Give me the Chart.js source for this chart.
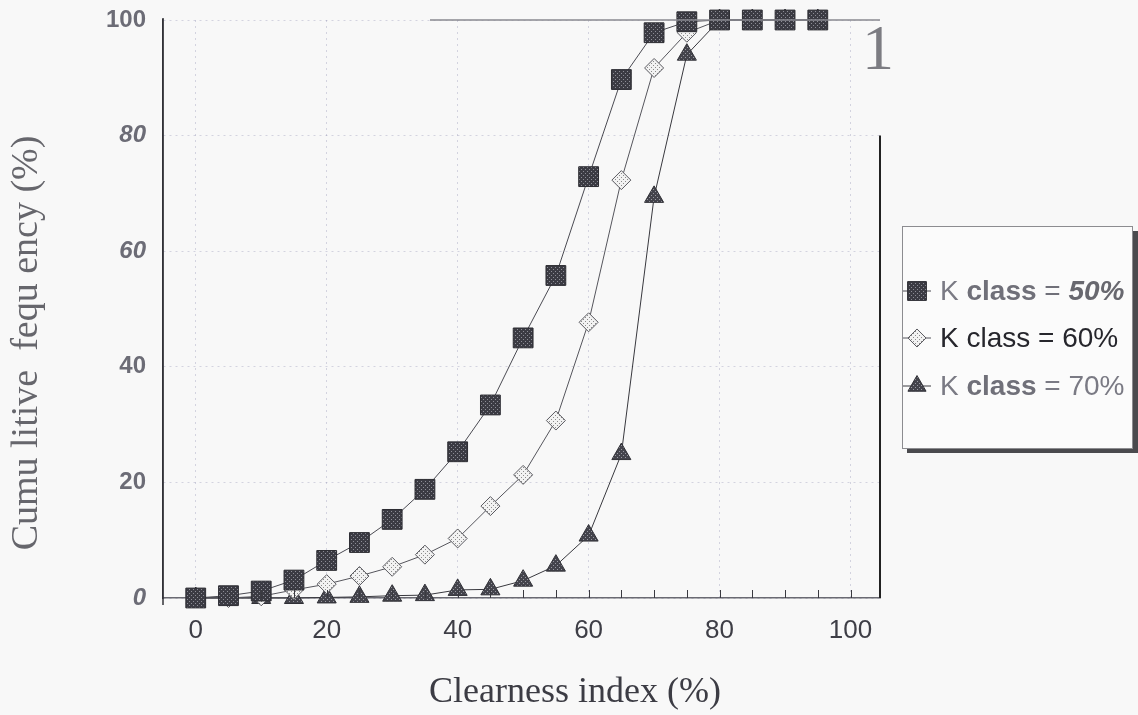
<!DOCTYPE html>
<html><head><meta charset="utf-8">
<script src="https://cdn.jsdelivr.net/npm/chart.js@4/dist/chart.umd.min.js"></script>
<style>html,body{margin:0;padding:0;background:#f8f8f8;}#wrap{width:1138px;height:715px;}</style>
</head><body><div id="wrap"><canvas id="c" width="1138" height="715"></canvas></div>
<script>
// ---- data ----
const clearnessIndex = [0,5,10,15,20,25,30,35,40,45,50,55,60,65,70,75,80,85,90,95];
const kClass50 = [0,0.4,1.2,3.1,6.5,9.6,13.6,18.8,25.3,33.4,45.0,55.8,72.9,89.7,97.8,99.7,100,100,100,100];
const kClass60 = [0,0,0.3,1.4,2.4,3.8,5.4,7.5,10.3,15.9,21.3,30.7,47.7,72.3,91.7,97.8,100,100,100,100];
const kClass70 = [0,0,0,0,0.1,0.2,0.4,0.5,1.4,1.5,3.0,5.6,10.8,24.9,69.4,94.0,100,100,100,100];
const seriesLabels = ['K class = 50%','K class = 60%','K class = 70%'];
const xTickValues = [0,20,40,60,80,100];
const yTickValues = [0,20,40,60,80,100];
const xTitle = 'Clearness index (%)';
const yTitle = 'Cumu litive  fequ ency (%)';
const cornerMark = '1';

function makePattern(bg, dot){
  const p = document.createElement('canvas'); p.width = 4; p.height = 4;
  const g = p.getContext('2d');
  g.fillStyle = bg; g.fillRect(0,0,4,4);
  g.fillStyle = dot; g.fillRect(1,1,1,1); g.fillRect(3,3,1,1);
  return document.getElementById('c').getContext('2d').createPattern(p,'repeat');
}
const patSquare = makePattern('#3b3b43','#8d8d96');
const patDiamond = makePattern('#f2f2f2','#8a8a8a');
const patTri = makePattern('#44444c','#9a9aa2');

const toXY = (ys) => clearnessIndex.map((x,i)=>({x:x, y:ys[i]}));

const decorPlugin = {
  id:'decor',
  afterDraw(chart){
    const ctx = chart.ctx;
    const xs = chart.scales.x, ys = chart.scales.y;
    ctx.save();
    // inward minor ticks on x axis
    ctx.strokeStyle = '#3a3a40'; ctx.lineWidth = 1;
    for (let v = 0; v <= 100; v += 5){
      const px = Math.round(xs.getPixelForValue(v)) + 0.5;
      ctx.beginPath(); ctx.moveTo(px, ys.bottom); ctx.lineTo(px, ys.bottom - 8); ctx.stroke();
    }
    // y axis line overhang
    ctx.strokeStyle = '#333338'; ctx.lineWidth = 1.5;
    ctx.beginPath(); ctx.moveTo(xs.left, ys.top - 2); ctx.lineTo(xs.left, ys.bottom + 7); ctx.stroke();
    // right frame line and partial top line
    ctx.strokeStyle = '#222'; ctx.lineWidth = 2;
    ctx.beginPath(); ctx.moveTo(xs.right, ys.getPixelForValue(80)); ctx.lineTo(xs.right, ys.bottom); ctx.stroke();
    ctx.strokeStyle = '#8a8a90'; ctx.lineWidth = 1.5;
    ctx.beginPath(); ctx.moveTo(430, ys.getPixelForValue(100)); ctx.lineTo(xs.right, ys.getPixelForValue(100)); ctx.stroke();

    // axis titles
    ctx.fillStyle = '#66666c';
    ctx.font = '38px "Liberation Serif", serif';
    ctx.textAlign = 'center'; ctx.textBaseline = 'middle';
    ctx.save(); ctx.translate(27, 343); ctx.rotate(-Math.PI/2); ctx.fillText(yTitle, 0, 0); ctx.restore();
    ctx.fillStyle = '#3c3c44';
    ctx.font = '36px "Liberation Serif", serif';
    ctx.fillText(xTitle, 575, 693);
    ctx.fillStyle = '#7c7c82';
    ctx.font = '64px "Liberation Serif", serif';
    ctx.fillText(cornerMark, 878, 52);

    // legend
    ctx.fillStyle = '#4a4a4e';
    ctx.fillRect(907, 231, 231, 222);
    ctx.fillStyle = '#fbfbfb';
    ctx.fillRect(902, 226, 230, 222);
    ctx.strokeStyle = '#8c8c90'; ctx.lineWidth = 1;
    ctx.strokeRect(902.5, 226.5, 230, 222);
    const rows = [
      {y:291, segs:[['K','28px "Liberation Sans"','#7a7a84'],[' ','28px "Liberation Sans"','#7a7a84'],['class','bold 28px "Liberation Sans"','#707079'],[' = ','28px "Liberation Sans"','#707079'],['50%','italic bold 28px "Liberation Sans"','#68686f']]},
      {y:338, segs:[['K class = 60%','28px "Liberation Sans"','#26262c']]},
      {y:386, segs:[['K','28px "Liberation Sans"','#7a7a84'],[' ','28px "Liberation Sans"','#7a7a84'],['class','bold 28px "Liberation Sans"','#707079'],[' = 70%','28px "Liberation Sans"','#7a7a84']]}
    ];
    chart.data.datasets.forEach((ds, i) => {
      const r = rows[i];
      ctx.strokeStyle = ds.borderColor; ctx.lineWidth = 1;
      ctx.beginPath(); ctx.moveTo(903, r.y); ctx.lineTo(931, r.y); ctx.stroke();
      ctx.fillStyle = ds.pointBackgroundColor; ctx.strokeStyle = ds.pointBorderColor;
      ctx.lineWidth = 1;
      Chart.helpers.drawPoint(ctx, {pointStyle: ds.pointStyle, radius: ds.pointRadius*0.95, rotation:0, borderWidth:1}, 917, r.y);
      let x = 940;
      ctx.textAlign = 'left'; ctx.textBaseline = 'middle';
      r.segs.forEach(s => { ctx.font = s[1]; ctx.fillStyle = s[2]; ctx.fillText(s[0], x, r.y + 1); x += ctx.measureText(s[0]).width; });
    });
    ctx.restore();
  }
};

new Chart(document.getElementById('c'), {
  type: 'scatter',
  data: {
    datasets: [
      {label: seriesLabels[0], data: toXY(kClass50), showLine: true, borderColor: '#4a4a52', borderWidth: 1,
       pointStyle: 'rect', pointRadius: 14, pointBackgroundColor: patSquare, pointBorderColor: '#2c2c32', pointBorderWidth: 1, clip: false},
      {label: seriesLabels[1], data: toXY(kClass60), showLine: true, borderColor: '#55555c', borderWidth: 1,
       pointStyle: 'rectRot', pointRadius: 9.5, pointBackgroundColor: patDiamond, pointBorderColor: '#5a5a60', pointBorderWidth: 1, clip: false},
      {label: seriesLabels[2], data: toXY(kClass70), showLine: true, borderColor: '#38383e', borderWidth: 1,
       pointStyle: 'triangle', pointRadius: 11, pointBackgroundColor: patTri, pointBorderColor: '#303036', pointBorderWidth: 1, clip: false}
    ]
  },
  options: {
    responsive: false, animation: false, devicePixelRatio: 1,
    layout: {padding: {left: 0, right: 258, top: 20, bottom: 0}},
    plugins: {legend: {display: false}, tooltip: {enabled: false}},
    elements: {line: {tension: 0}},
    scales: {
      x: {
        type: 'linear', min: -5, max: 104.5,
        afterBuildTicks: s => { s.ticks = xTickValues.map(v => ({value: v})); },
        afterFit: s => { s.height = 117; },
        grid: {color: 'rgba(125,125,165,0.3)', lineWidth: 1, drawTicks: true, tickLength: 17, tickColor: 'rgba(0,0,0,0)'},
        border: {display: true, color: '#6a6a72', width: 1.5, dash: [2,4]},
        ticks: {padding: 0, color: '#3e3e46', font: {family: '"Liberation Sans", Arial', size: 26}}
      },
      y: {
        min: 0, max: 100,
        afterBuildTicks: s => { s.ticks = yTickValues.map(v => ({value: v})); },
        afterFit: s => { s.width = 163; },
        grid: {color: 'rgba(125,125,165,0.3)', lineWidth: 1, drawTicks: true, tickLength: 17, tickColor: 'rgba(0,0,0,0)'},
        border: {display: true, color: '#333338', width: 1.5, dash: [2,4]},
        ticks: {padding: 0, color: '#6c6c76',
          font: (ctx) => {
            const v = ctx.tick ? ctx.tick.value : 0;
            const it = (v === 80 || v === 60 || v === 0);
            return {family: '"Liberation Sans", Arial', size: 24, weight: 'bold', style: it ? 'italic' : 'normal'};
          }}
      }
    }
  },
  plugins: [decorPlugin]
});
</script></body></html>
